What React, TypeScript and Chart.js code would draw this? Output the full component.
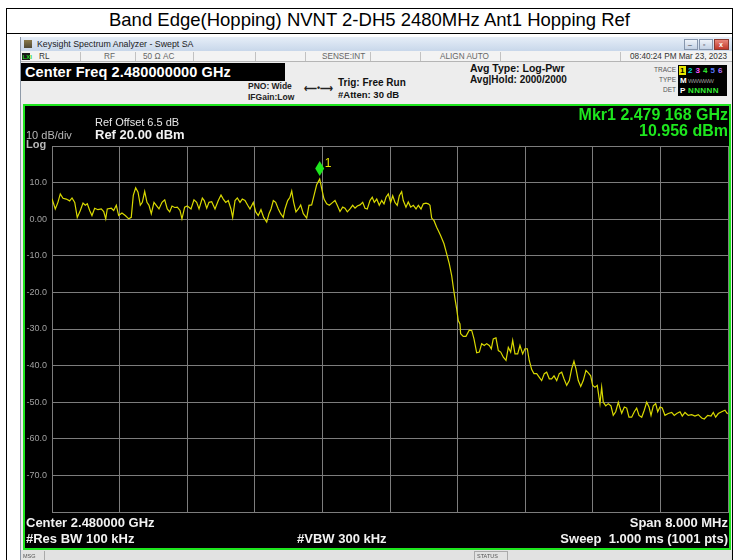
import React, { useEffect, useRef } from "react";
import { Chart, registerables } from "chart.js";

Chart.register(...registerables);

const FONT = "'Liberation Sans', Arial, sans-serif";

// ---- data ----
const freqMHz = [
  2476.000, 2476.039, 2476.070, 2476.098, 2476.130, 2476.169, 2476.209, 2476.237, 2476.269, 2476.299,
  2476.335, 2476.367, 2476.394, 2476.418, 2476.446, 2476.473, 2476.505, 2476.544, 2476.583, 2476.612,
  2476.636, 2476.654, 2476.702, 2476.730, 2476.761, 2476.789, 2476.828, 2476.867, 2476.908, 2476.938,
  2476.962, 2476.990, 2477.018, 2477.045, 2477.069, 2477.097, 2477.124, 2477.148, 2477.175, 2477.207,
  2477.234, 2477.266, 2477.302, 2477.334, 2477.364, 2477.393, 2477.420, 2477.452, 2477.483, 2477.515,
  2477.538, 2477.570, 2477.601, 2477.645, 2477.680, 2477.712, 2477.740, 2477.779, 2477.802, 2477.831,
  2477.858, 2477.890, 2477.929, 2477.968, 2478.000, 2478.027, 2478.056, 2478.086, 2478.118, 2478.138,
  2478.166, 2478.193, 2478.225, 2478.252, 2478.284, 2478.316, 2478.343, 2478.382, 2478.411, 2478.441,
  2478.473, 2478.505, 2478.541, 2478.568, 2478.592, 2478.619, 2478.647, 2478.678, 2478.706, 2478.737,
  2478.757, 2478.789, 2478.816, 2478.837, 2478.860, 2478.887, 2478.915, 2478.943, 2478.974, 2479.014,
  2479.041, 2479.073, 2479.101, 2479.132, 2479.168, 2479.195, 2479.219, 2479.251, 2479.282, 2479.322,
  2479.349, 2479.376, 2479.408, 2479.440, 2479.467, 2479.495, 2479.527, 2479.558, 2479.586, 2479.613,
  2479.645, 2479.677, 2479.704, 2479.731, 2479.763, 2479.790, 2479.814, 2479.843, 2479.873, 2479.902,
  2479.929, 2479.953, 2479.980, 2480.008, 2480.032, 2480.059, 2480.086, 2480.110, 2480.138, 2480.157,
  2480.189, 2480.216, 2480.245, 2480.276, 2480.308, 2480.335, 2480.367, 2480.394, 2480.426, 2480.453,
  2480.473, 2480.493, 2480.521, 2480.552, 2480.571, 2480.600, 2480.639, 2480.671, 2480.702, 2480.730,
  2480.749, 2480.769, 2480.789, 2480.808, 2480.828, 2480.836, 2480.867, 2480.899, 2480.938, 2480.967,
  2480.994, 2481.026, 2481.057, 2481.085, 2481.116, 2481.144, 2481.175, 2481.199, 2481.222, 2481.254,
  2481.282, 2481.310, 2481.341, 2481.373, 2481.400, 2481.428, 2481.452, 2481.479, 2481.511, 2481.538,
  2481.570, 2481.597, 2481.625, 2481.648, 2481.677, 2481.704, 2481.736, 2481.767, 2481.795, 2481.826,
  2481.854, 2481.885, 2481.913, 2481.941, 2481.973, 2482.003, 2482.032, 2482.059, 2482.091, 2482.122,
  2482.150, 2482.177, 2482.201, 2482.228, 2482.257, 2482.287, 2482.319, 2482.347, 2482.375, 2482.399,
  2482.426, 2482.453, 2482.473, 2482.485, 2482.505, 2482.524, 2482.553, 2482.583, 2482.615, 2482.642,
  2482.671, 2482.702, 2482.722, 2482.742, 2482.773, 2482.801, 2482.828, 2482.860, 2482.891, 2482.919,
  2482.947, 2482.979, 2483.009, 2483.038, 2483.065, 2483.089, 2483.116, 2483.144, 2483.168, 2483.195,
  2483.222, 2483.254, 2483.293, 2483.334, 2483.364, 2483.393, 2483.432, 2483.459, 2483.491, 2483.530,
  2483.570, 2483.609, 2483.648, 2483.689, 2483.719, 2483.760, 2483.799, 2483.826, 2483.854, 2483.885,
  2483.925, 2483.964, 2483.991, 2484.000,
];

const levelDbm = [
  5.6, 2.8, 4.6, 6.9, 5.7, 5.5, 5.0, 5.8, 4.6, 0.5,
  2.4, 4.4, 3.8, 4.2, 2.4, 1.0, 3.0, 2.6, 2.8, 2.1,
  0.1, 2.8, 3.0, 2.4, 3.8, 1.0, 1.7, 1.0, 0.1, 0.5,
  6.5, 8.6, 7.4, 3.8, 4.6, 7.6, 4.6, 3.8, 1.5, 4.6,
  3.8, 2.8, 4.6, 5.3, 2.8, 2.0, 3.6, 3.2, 3.3, 2.4,
  0.1, 3.3, 3.6, 2.8, 5.3, 4.6, 2.8, 5.8, 5.1, 3.0,
  4.6, 4.8, 2.8, 5.1, 6.6, 5.5, 4.6, 5.1, 2.8, 0.5,
  5.1, 5.8, 4.6, 5.5, 5.1, 3.8, 2.8, 4.6, 2.0, 1.0,
  2.6, 0.5, -0.8, 1.5, 2.8, 5.1, 4.6, 2.8, 1.5, 0.5,
  2.8, 5.1, 6.0, 7.7, 4.6, 2.0, 2.8, 3.9, 1.5, 0.3,
  3.8, 3.9, 6.5, 9.4, 10.956, 8.0, 5.5, 4.2, 3.8, 4.6,
  5.1, 3.8, 2.1, 3.3, 3.0, 2.0, 2.8, 3.8, 3.0, 3.6,
  3.9, 4.6, 3.0, 2.8, 5.1, 6.0, 4.6, 5.5, 3.8, 5.1,
  4.2, 6.0, 6.9, 4.6, 6.4, 4.6, 3.8, 6.4, 7.5, 5.1,
  3.3, 4.7, 3.3, 3.8, 2.8, 3.8, 2.8, 4.2, 4.4, 4.2,
  3.8, 0.3, -0.4, -2.2, -3.1, -4.5, -6.7, -9.5, -12.2, -15.4,
  -18.6, -21.7, -24.5, -27.7, -28.6, -31.3, -32.0, -32.0, -30.3, -30.4,
  -32.7, -36.5, -36.3, -34.0, -34.5, -34.0, -34.5, -35.4, -32.7, -32.4,
  -35.9, -36.3, -37.7, -38.6, -35.0, -36.3, -33.1, -36.8, -36.8, -34.5,
  -36.8, -35.4, -35.4, -38.6, -41.1, -42.2, -42.2, -43.2, -44.1, -42.2,
  -41.8, -43.6, -43.6, -42.8, -44.1, -42.2, -41.8, -43.6, -45.4, -44.1,
  -40.9, -38.8, -40.9, -44.1, -45.7, -44.1, -41.3, -42.0, -42.8, -45.4,
  -45.9, -45.4, -48.6, -50.4, -45.9, -50.0, -51.0, -50.4, -51.0, -53.6,
  -52.6, -50.0, -51.6, -53.0, -51.3, -51.6, -54.1, -54.1, -52.6, -51.6,
  -53.6, -54.1, -52.2, -50.0, -51.3, -53.6, -51.0, -50.4, -52.6, -51.3,
  -51.6, -53.6, -53.1, -52.8, -53.6, -53.1, -52.6, -53.8, -52.8, -53.6,
  -53.4, -53.8, -53.4, -54.3, -54.6, -53.6, -53.8, -52.8, -54.1, -53.1,
  -52.6, -52.2, -53.1, -53.0,
];

const xGridMHz = [2476, 2476.8, 2477.6, 2478.4, 2479.2, 2480, 2480.8, 2481.6, 2482.4, 2483.2, 2484];
const yGridDbm = [20, 10, 0, -10, -20, -30, -40, -50, -60, -70, -80];
const yTickLabels = ["", "10.0", "0.00", "-10.0", "-20.0", "-30.0", "-40.0", "-50.0", "-60.0", "-70.0", ""];
const markerFreqMHz = 2479.168;
const markerLevelDbm = 10.956;

// ---- small text helper ----
type TP = {
  x: number; y: number; s: number; w?: number | string; c?: string; r?: boolean;
  children: React.ReactNode; ls?: number; ff?: string;
};
function T({ x, y, s, w = 400, c = "#000", r = false, children, ls = 0, ff }: TP) {
  const st: React.CSSProperties = {
    position: "absolute",
    top: y - 0.49 * s,
    fontSize: s,
    fontWeight: w as any,
    color: c,
    lineHeight: 1,
    whiteSpace: "pre",
    fontFamily: ff || FONT,
    letterSpacing: ls,
  };
  if (r) st.right = 738 - x; else st.left = x;
  return <div style={st}>{children}</div>;
}

function Box(p: { x: number; y: number; w: number; h: number; style?: React.CSSProperties; children?: React.ReactNode }) {
  return (
    <div style={{ position: "absolute", left: p.x, top: p.y, width: p.w, height: p.h, ...p.style }}>{p.children}</div>
  );
}

export default function App() {
  const canvasRef = useRef<HTMLCanvasElement | null>(null);
  const mkLabelRef = useRef<HTMLDivElement | null>(null);

  useEffect(() => {
    document.body.style.margin = "0";
    const canvas = canvasRef.current;
    if (!canvas) return;
    const gridColor = "#7d7d7d";
    const chart = new Chart(canvas, {
      type: "line",
      data: {
        datasets: [
          {
            data: freqMHz.map((f, i) => ({ x: f, y: levelDbm[i] })),
            borderColor: "#d9d900",
            borderWidth: 1.2,
            pointRadius: 0,
            tension: 0,
            fill: false,
          },
        ],
      },
      options: {
        animation: false,
        responsive: false,
        maintainAspectRatio: false,
        events: [],
        layout: { padding: { left: 0, top: 40, right: 1, bottom: 35 } },
        plugins: { legend: { display: false }, tooltip: { enabled: false }, title: { display: false } },
        scales: {
          x: {
            type: "linear",
            min: 2476,
            max: 2484,
            afterBuildTicks: (s: any) => {
              s.ticks = xGridMHz.map((v) => ({ value: v }));
            },
            afterFit: (s: any) => {
              s.height = 0;
            },
            ticks: { display: false },
            grid: { color: gridColor, lineWidth: 1, drawTicks: false },
            border: { color: gridColor, width: 1 },
          },
          y: {
            type: "linear",
            min: -80,
            max: 20,
            afterBuildTicks: (s: any) => {
              s.ticks = yGridDbm.map((v) => ({ value: v }));
            },
            afterFit: (s: any) => {
              s.width = 27;
            },
            ticks: {
              color: "#a0a0a0",
              font: { size: 9, family: FONT },
              padding: 5,
              callback: (v: any) => yTickLabels[yGridDbm.indexOf(Number(v))] ?? "",
            },
            grid: { color: gridColor, lineWidth: 1, drawTicks: false },
            border: { color: gridColor, width: 1 },
          },
        },
      },
      plugins: [
        {
          id: "marker",
          afterDatasetsDraw(ch: any) {
            const { ctx, scales } = ch;
            const x = scales.x.getPixelForValue(markerFreqMHz);
            const y = scales.y.getPixelForValue(markerLevelDbm);
            const tip = y - 3;
            const h = 15;
            const w = 4.5;
            ctx.save();
            ctx.fillStyle = "#1ee61e";
            ctx.beginPath();
            ctx.moveTo(x, tip);
            ctx.lineTo(x + w, tip - h / 2);
            ctx.lineTo(x, tip - h);
            ctx.lineTo(x - w, tip - h / 2);
            ctx.closePath();
            ctx.fill();
            ctx.restore();
            if (mkLabelRef.current) {
              mkLabelRef.current.style.left = 25 + x + 5 + "px";
              mkLabelRef.current.style.top = 106 + tip - h - 4 + "px";
            }
          },
        },
      ],
    } as any);
    return () => chart.destroy();
  }, []);

  return (
    <div style={{ position: "fixed", left: 0, top: 0, width: 738, height: 560, background: "#fff", overflow: "hidden", fontFamily: FONT }}>
      {/* document table */}
      <Box x={6} y={8} w={727} h={560} style={{ border: "1px solid #000", boxSizing: "border-box" }} />
      <Box x={6} y={33} w={727} h={1} style={{ background: "#000" }} />
      <div style={{ position: "absolute", left: 6, width: 727, top: 20 - 0.49 * 18.5, fontSize: 18.5, lineHeight: 1, textAlign: "center", color: "#000", whiteSpace: "nowrap" }}>
        Band Edge(Hopping) NVNT 2-DH5 2480MHz Ant1 Hopping Ref
      </div>

      {/* analyzer window */}
      <Box x={20} y={37} w={712} h={530} style={{ background: "#ececec", borderLeft: "1px solid #8f9aa8" }} />
      {/* title bar */}
      <Box x={21} y={37} w={711} h={14} style={{ background: "linear-gradient(#e6eef8,#c8d7ea)" }} />
      <Box x={24} y={40} w={8} h={8} style={{ background: "linear-gradient(#8a7a4a,#4f4a36)" }} />
      <T x={37} y={44.5} s={8.8} c="#1b1b1b">Keysight Spectrum Analyzer - Swept SA</T>
      <Box x={684} y={39} w={14} h={11} style={{ background: "linear-gradient(#eef3fa,#c3d1e4)", border: "1px solid #8696ad", boxSizing: "border-box" }} />
      <Box x={699} y={39} w={14} h={11} style={{ background: "linear-gradient(#eef3fa,#c3d1e4)", border: "1px solid #8696ad", boxSizing: "border-box" }} />
      <Box x={714} y={39} w={15} h={11} style={{ background: "linear-gradient(#e9877b,#c0392b)", border: "1px solid #8a3a30", boxSizing: "border-box" }} />
      <T x={688} y={44.5} s={7} c="#334">–</T>
      <T x={703} y={44.5} s={7} c="#334">▫</T>
      <T x={719} y={44.5} s={7} w={700} c="#fff">x</T>

      {/* status row */}
      <Box x={21} y={51} w={711} h={11} style={{ background: "#f3f3f3", borderBottom: "1px solid #b5b5b5", boxSizing: "border-box" }} />
      <Box x={22} y={53} w={8} h={7} style={{ background: "#1a1a1a" }} />
      <T x={22.5} y={56.5} s={6} w={700} c="#26d326">LXI</T>
      {[80, 135, 193, 255, 305, 370, 420, 500, 620].map((sx) => (
        <Box key={sx} x={sx} y={52} w={1} h={9} style={{ background: "#c2c2c2" }} />
      ))}
      <T x={39} y={57} s={8.2} c="#333">RL</T>
      <T x={104} y={57} s={8.2} c="#666">RF</T>
      <T x={143} y={57} s={8.2} c="#666">50 Ω</T>
      <T x={163} y={57} s={8.2} c="#666">AC</T>
      <T x={322} y={57} s={8.2} c="#666">SENSE:INT</T>
      <T x={440} y={57} s={8.2} c="#666">ALIGN AUTO</T>
      <T x={727} y={57} s={8.2} c="#333" r>08:40:24 PM Mar 23, 2023</T>

      {/* settings row */}
      <Box x={21} y={62} w={711} h={42} style={{ background: "#ededed" }} />
      <Box x={21} y={63} w={264} h={18} style={{ background: "#000" }} />
      <T x={25} y={72} s={14.5} w={700} c="#fff" ls={0.1}>Center Freq 2.480000000 GHz</T>
      <T x={248} y={86} s={8.5} w={700} c="#222">PNO: Wide</T>
      <T x={248} y={97} s={8.5} w={700} c="#222">IFGain:Low</T>
      <T x={304} y={88} s={9} w={700} c="#222">⟵•⟶</T>
      <T x={338} y={83} s={10} w={700} c="#111">Trig: Free Run</T>
      <T x={338} y={95} s={9.5} w={700} c="#111">#Atten: 30 dB</T>
      <T x={470} y={68} s={10.5} w={700} c="#111">Avg Type: Log-Pwr</T>
      <T x={470} y={80} s={10} w={700} c="#111">Avg|Hold: 2000/2000</T>
      <T x={676} y={70} s={6.5} c="#555" r>TRACE</T>
      <T x={676} y={80} s={6.5} c="#555" r>TYPE</T>
      <T x={676} y={90} s={6.5} c="#555" r>DET</T>
      <Box x={678} y={65} w={49} h={31} style={{ background: "#000" }} />
      <Box x={679} y={66} w={7} h={9} style={{ background: "#e6e600" }} />
      <T x={680} y={70.5} s={8} w={700} c="#000">1</T>
      <T x={688} y={70.5} s={8} w={700} c="#00d8d8">2</T>
      <T x={695.5} y={70.5} s={8} w={700} c="#ff55ff">3</T>
      <T x={703} y={70.5} s={8} w={700} c="#33ee33">4</T>
      <T x={710.5} y={70.5} s={8} w={700} c="#5577ff">5</T>
      <T x={718} y={70.5} s={8} w={700} c="#b070ff">6</T>
      <T x={680} y={80.5} s={8} w={700} c="#fff">M</T>
      <T x={688} y={80.5} s={6} c="#9a9a9a" ls={-0.6}>WWWWW</T>
      <T x={680} y={90.5} s={8} w={700} c="#fff">P</T>
      <T x={688} y={90.5} s={8} w={700} c="#33ee33" ls={0.4}>NNNNN</T>

      {/* plot panel */}
      <Box x={23} y={104} w={708} h={446} style={{ border: "2px solid #1ee61e", background: "#000", boxSizing: "border-box" }} />
      <canvas ref={canvasRef} width={704} height={441} style={{ position: "absolute", left: 25, top: 106, width: 704, height: 441 }} />
      <T x={95} y={122} s={11} c="#e8e8e8">Ref Offset 6.5 dB</T>
      <T x={95} y={134} s={13} w={700} c="#f2f2f2">Ref 20.00 dBm</T>
      <T x={26} y={135} s={11} c="#b8b8b8">10 dB/div</T>
      <T x={26} y={144} s={11} w={700} c="#b8b8b8">Log</T>
      <T x={728} y={115} s={16} w={700} c="#1ee61e" r>Mkr1 2.479 168 GHz</T>
      <T x={728} y={131} s={16} w={700} c="#1ee61e" r>10.956 dBm</T>
      <div ref={mkLabelRef} style={{ position: "absolute", left: 325, top: 150, fontSize: 12, lineHeight: 1, color: "#e6e600", fontFamily: FONT }}>1</div>
      <T x={26} y={522} s={13} w={700} c="#f2f2f2">Center 2.480000 GHz</T>
      <T x={26} y={538} s={13} w={700} c="#f2f2f2">#Res BW 100 kHz</T>
      <T x={297} y={538} s={13} w={700} c="#f2f2f2">#VBW 300 kHz</T>
      <T x={728} y={522} s={13} w={700} c="#f2f2f2" r>Span 8.000 MHz</T>
      <T x={728} y={538} s={13} w={700} c="#f2f2f2" r>Sweep  1.000 ms (1001 pts)</T>

      {/* message bar */}
      <Box x={21} y={550} w={711} h={12} style={{ background: "#e2e2e2" }} />
      <Box x={44} y={551} w={1} h={10} style={{ background: "#aaa" }} />
      <T x={23} y={557} s={5.5} c="#555">MSG</T>
      <Box x={474} y={551} w={34} h={10} style={{ border: "1px solid #aaa", boxSizing: "border-box" }} />
      <T x={477} y={557} s={5.5} c="#555">STATUS</T>
      {/* right table border */}
      <Box x={732} y={8} w={1} h={560} style={{ background: "#000" }} />
    </div>
  );
}
